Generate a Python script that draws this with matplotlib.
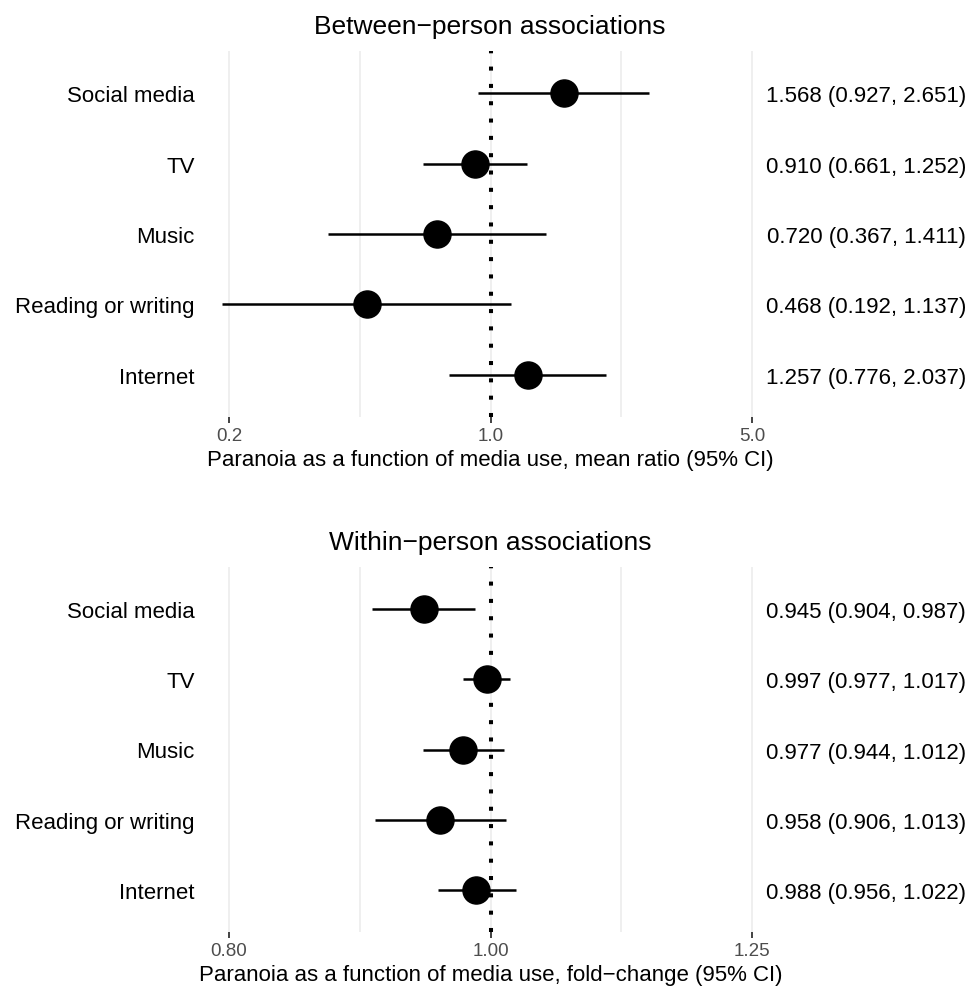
import numpy as np
import matplotlib
matplotlib.use("Agg")
import matplotlib.pyplot as plt
from matplotlib.transforms import blended_transform_factory

plt.rcParams['font.family'] = ['Liberation Sans', 'DejaVu Sans']

categories = ["Social media", "TV", "Music", "Reading or writing", "Internet"]

between_est = [1.568, 0.910, 0.720, 0.468, 1.257]
between_lo = [0.927, 0.661, 0.367, 0.192, 0.776]
between_hi = [2.651, 1.252, 1.411, 1.137, 2.037]
between_ticks = [0.2, 1.0, 5.0]
between_ticklabels = ["0.2", "1.0", "5.0"]

within_est = [0.945, 0.997, 0.977, 0.958, 0.988]
within_lo = [0.904, 0.977, 0.944, 0.906, 0.956]
within_hi = [0.987, 1.017, 1.012, 1.013, 1.022]
within_ticks = [0.80, 1.00, 1.25]
within_ticklabels = ["0.80", "1.00", "1.25"]

W, H = 971, 987
fig = plt.figure(figsize=(W / 100, H / 100), dpi=100)

PAD = 0.055          # fraction of log range added each side
X0, X1 = 229, 752    # pixel positions of first/last major tick
ax_left = X0 - (X1 - X0) * PAD
ax_right = X1 + (X1 - X0) * PAD


def panel(top_px, bot_px, est, lo, hi, ticks, ticklabels, title, xlabel, title_y):
    ax = fig.add_axes([ax_left / W, 1 - bot_px / H,
                       (ax_right - ax_left) / W, (bot_px - top_px) / H])
    ax.set_xscale('log')
    lr = np.log(ticks[-1]) - np.log(ticks[0])
    ax.set_xlim(np.exp(np.log(ticks[0]) - PAD * lr), np.exp(np.log(ticks[-1]) + PAD * lr))
    n = len(categories)
    y = np.arange(1, n + 1)
    ax.set_ylim(n + 0.6, 0.4)

    for s in ax.spines.values():
        s.set_visible(False)

    minor = [np.sqrt(ticks[0] * ticks[1]), np.sqrt(ticks[1] * ticks[2])]
    ax.set_xticks(ticks)
    ax.set_xticklabels(ticklabels)
    ax.set_xticks(minor, minor=True)
    ax.set_xticklabels([], minor=True)
    ax.tick_params(axis='x', which='major', length=4, width=1.3, color='#333333',
                   labelsize=13.5, labelcolor='#4d4d4d', pad=3.5)
    ax.tick_params(axis='x', which='minor', length=0)
    ax.grid(True, axis='x', which='both', color='#ebebeb', lw=1.1, zorder=0)
    ax.set_axisbelow(True)

    ax.set_yticks(y)
    ax.set_yticklabels(categories, fontsize=16)
    ax.tick_params(axis='y', length=0, pad=4, labelcolor='black')

    ax.hlines(y, lo, hi, color='black', lw=1.8, zorder=2, clip_on=False)
    ax.plot(est, y, 'o', color='black', ms=19.5, zorder=3, clip_on=False)
    ax.axvline(1.0, color='black', lw=2.9, linestyle=(0, (1, 3.3)),
               dash_capstyle='butt', zorder=4)

    tr = blended_transform_factory(fig.transFigure, ax.transData)
    for yi, e, l, h in zip(y, est, lo, hi):
        ax.text(966 / W, yi, f"{e:.3f} ({l:.3f}, {h:.3f})", transform=tr,
                ha='right', va='center_baseline', fontsize=16, clip_on=False)

    ax.set_xlabel(xlabel, fontsize=16, labelpad=3)
    fig.text(490 / W, 1 - title_y / H, title, ha='center', va='center', fontsize=19)
    return ax


panel(52, 418, between_est, between_lo, between_hi, between_ticks, between_ticklabels,
      "Between\u2212person associations",
      "Paranoia as a function of media use, mean ratio (95% CI)", 27)
panel(568, 933, within_est, within_lo, within_hi, within_ticks, within_ticklabels,
      "Within\u2212person associations",
      "Paranoia as a function of media use, fold\u2212change (95% CI)", 543)

fig.savefig("out.png", dpi=100, facecolor='white')
